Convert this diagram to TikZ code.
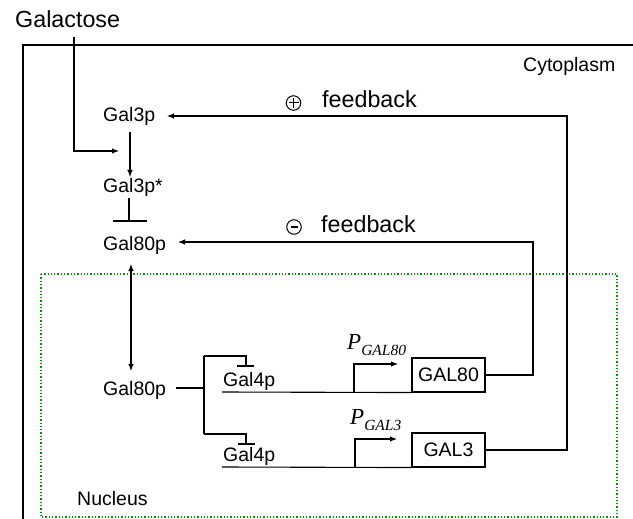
\documentclass[tikz,border=0pt]{standalone}
\usepackage{fontspec}
\setmainfont{Liberation Sans}
\newfontfamily\timesit{Liberation Serif}
\usetikzlibrary{arrows.meta}
\begin{document}
\begin{tikzpicture}[x=1pt,y=-1pt,
  lbl/.style={anchor=base west,inner sep=0pt,font=\fontsize{19.5}{22}\selectfont},
  big/.style={anchor=base west,inner sep=0pt,font=\fontsize{23.3}{26}\selectfont},
  ln/.style={line width=1.1pt,black},
  arr/.style={ln,-{Latex[length=7pt,width=5.5pt]}},
  darr/.style={ln,{Latex[length=7pt,width=5.5pt]}-{Latex[length=7pt,width=5.5pt]}},
  gene/.style={draw,line width=1.1pt,minimum width=73pt,minimum height=34pt,inner sep=0pt,font=\fontsize{19.5}{22}\selectfont},
  sign/.style={circle,draw,line width=1pt,minimum size=14.5pt,inner sep=0pt},
  prom/.style={anchor=base west,inner sep=0pt}]
\useasboundingbox (0,0) rectangle (633,519);
% compartments
\coordinate (cytTL) at (23,45);
\coordinate (cytBL) at (23,519);
\coordinate (cytTR) at (633,45);
\draw[ln] (cytBL) -- (cytTL) -- (cytTR);
\coordinate (nucTL) at (41,274);
\coordinate (nucBR) at (617,517);
\draw[green!60!black,dotted,line width=1.3pt] (nucTL) rectangle (nucBR);
% texts
\node[big] (galactose) at (15,28) {Galactose};
\node[lbl] (cyto) at (523,72) {Cytoplasm};
\node[lbl] (nucleus) at (77,505) {Nucleus};
\node[lbl] (gal3p) at (103,122) {Gal3p};
\node[lbl] (gal3ps) at (103,193) {Gal3p*};
\node[lbl] (gal80u) at (103,250) {Gal80p};
\node[lbl] (gal80l) at (103,395) {Gal80p};
\node[lbl] (gal4a) at (223,386) {Gal4p};
\node[lbl] (gal4b) at (223,461) {Gal4p};
\node[big] (fbp) at (322,108) {feedback};
\node[big] (fbm) at (321,233) {feedback};
\node[sign] (plus) at (293.5,103) {};
\draw[line width=1pt] ([xshift=-5pt]plus.center) -- ([xshift=5pt]plus.center)
  ([yshift=-5pt]plus.center) -- ([yshift=5pt]plus.center);
\node[sign] (minus) at (294,227) {};
\draw[line width=1.8pt] ([xshift=-3.5pt]minus.center) -- ([xshift=3.5pt]minus.center);
\node[gene] (gal80g) at (448.5,375) {GAL80};
\node[gene] (gal3g) at (448.5,450) {GAL3};
\node[prom] (pgal80) at (347,349) {\timesit\itshape\fontsize{23}{26}\selectfont P\raisebox{-6.5pt}{\fontsize{15.5}{18}\selectfont GAL80}};
\node[prom] (pgal3) at (350,424) {\timesit\itshape\fontsize{23}{26}\selectfont P\raisebox{-6.5pt}{\fontsize{15.5}{18}\selectfont GAL3}};
% galactose input
\coordinate (galA) at (74,37);
\coordinate (galB) at (74,151);
\coordinate (galC) at (119,151);
\draw[arr] (galA) -- (galB) -- (galC);
% Gal3p -> Gal3p*
\coordinate (g3a) at (130,132);
\coordinate (g3b) at (130,177);
\draw[arr] (g3a) -- (g3b);
% Gal3p* -| Gal80p
\coordinate (ia) at (129,198);
\coordinate (ib) at (129,221);
\coordinate (ibL) at (113,221);
\coordinate (ibR) at (147,221);
\draw[ln] (ia) -- (ib);
\draw[ln] (ibL) -- (ibR);
% shuttle
\coordinate (sa) at (131,264);
\coordinate (sb) at (131,371);
\draw[darr] (sa) -- (sb);
% Gal80p inhibits Gal4p
\coordinate (br0) at (176,388);
\coordinate (br1) at (204,388);
\coordinate (brT) at (204,356);
\coordinate (brB) at (204,434);
\coordinate (brT2) at (246,356);
\coordinate (brT3) at (246,366);
\coordinate (brB2) at (246,434);
\coordinate (brB3) at (246,444);
\coordinate (barTL) at (237,366);
\coordinate (barTR) at (254,366);
\coordinate (barBL) at (238,444);
\coordinate (barBR) at (255,444);
\draw[ln] (br0) -- (br1);
\draw[ln] (brT) -- (brB);
\draw[ln] (brT) -- (brT2) -- (brT3);
\draw[ln] (brB) -- (brB2) -- (brB3);
\draw[ln] (barTL) -- (barTR);
\draw[ln] (barBL) -- (barBR);
% DNA lines
\coordinate (dnaA) at (222,392);
\coordinate (dnaB) at (222,467);
\draw[ln] (dnaA) -- (gal80g.south west);
\draw[ln] (dnaB) -- (gal3g.south west);
% promoters
\coordinate (p1a) at (354,392);
\coordinate (p1b) at (354,364);
\coordinate (p1c) at (398,364);
\draw[arr] (p1a) -- (p1b) -- (p1c);
\coordinate (p2a) at (355,467);
\coordinate (p2b) at (355,439);
\coordinate (p2c) at (397,439);
\draw[arr] (p2a) -- (p2b) -- (p2c);
% feedback loops
\coordinate (nfr) at (533,375);
\coordinate (nft) at (178,242);
\draw[arr] (gal80g.east) -- (nfr) |- (nft);
\coordinate (pfr) at (567,450);
\coordinate (pft) at (167,116);
\draw[arr] (gal3g.east) -- (pfr) |- (pft);
\end{tikzpicture}
\end{document}
